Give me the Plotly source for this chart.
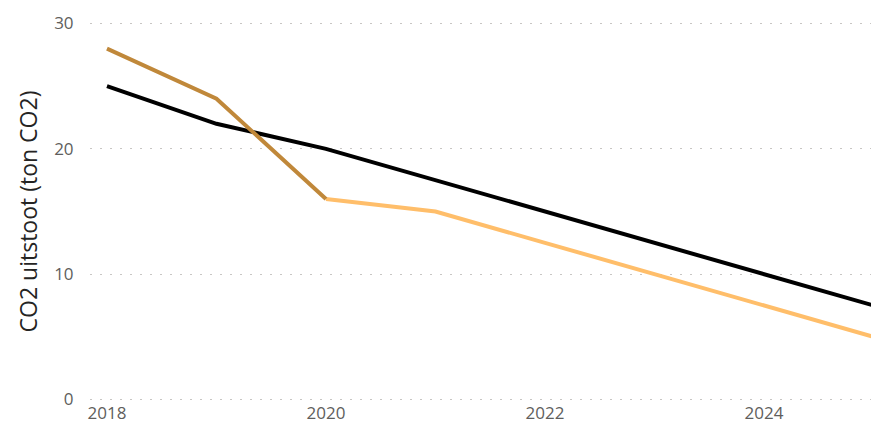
import plotly.graph_objects as go

years_hist = [2018, 2019, 2020]
hist_values = [28, 24, 16]

years_target = [2018, 2019, 2020, 2021, 2022, 2023, 2024, 2025]
target_values = [25, 22, 20, 17.5, 15, 12.5, 10, 7.5]

years_forecast = [2020, 2021, 2022, 2023, 2024, 2025]
forecast_values = [16, 15, 12.5, 10, 7.5, 5]

y_title = "CO2 uitstoot (ton CO2)"
y_ticks = [0, 10, 20, 30]
x_ticks = [2018, 2020, 2022, 2024]

fig = go.Figure()
fig.add_trace(go.Scatter(x=years_target, y=target_values, mode="lines",
                         line=dict(color="#000000", width=4), name="Doel"))
fig.add_trace(go.Scatter(x=years_forecast, y=forecast_values, mode="lines",
                         line=dict(color="#FFBE6A", width=4), name="Prognose"))
fig.add_trace(go.Scatter(x=years_hist, y=hist_values, mode="lines",
                         line=dict(color="#C0883A", width=4), name="Historisch"))

fig.update_layout(
    width=871, height=426,
    margin=dict(l=90, r=0, t=22, b=25, autoexpand=False),
    paper_bgcolor="white", plot_bgcolor="white",
    showlegend=False,
    font=dict(family="Segoe UI, Open Sans, sans-serif", size=17, color="#605E5C"),
)
fig.update_xaxes(
    range=[2017.845, 2024.977], tickvals=x_ticks, ticktext=[str(v) for v in x_ticks],
    showgrid=False, zeroline=False, showline=False,
    ticks="", tickfont=dict(size=17, color="#605E5C"),
)
fig.update_yaxes(
    range=[-0.12, 30.12], tickvals=y_ticks,
    showgrid=True, gridcolor="#C8C6C4", gridwidth=1, griddash="2px,8px",
    zeroline=False, showline=False,
    ticks="outside", ticklen=12, tickcolor="rgba(0,0,0,0)",
    tickfont=dict(size=17, color="#605E5C"),
    title=dict(text=y_title, font=dict(size=23, color="#252423"), standoff=10),
)

fig.write_html("out.html", config={"displayModeBar": False},
               post_script="document.body.style.margin='0';")
